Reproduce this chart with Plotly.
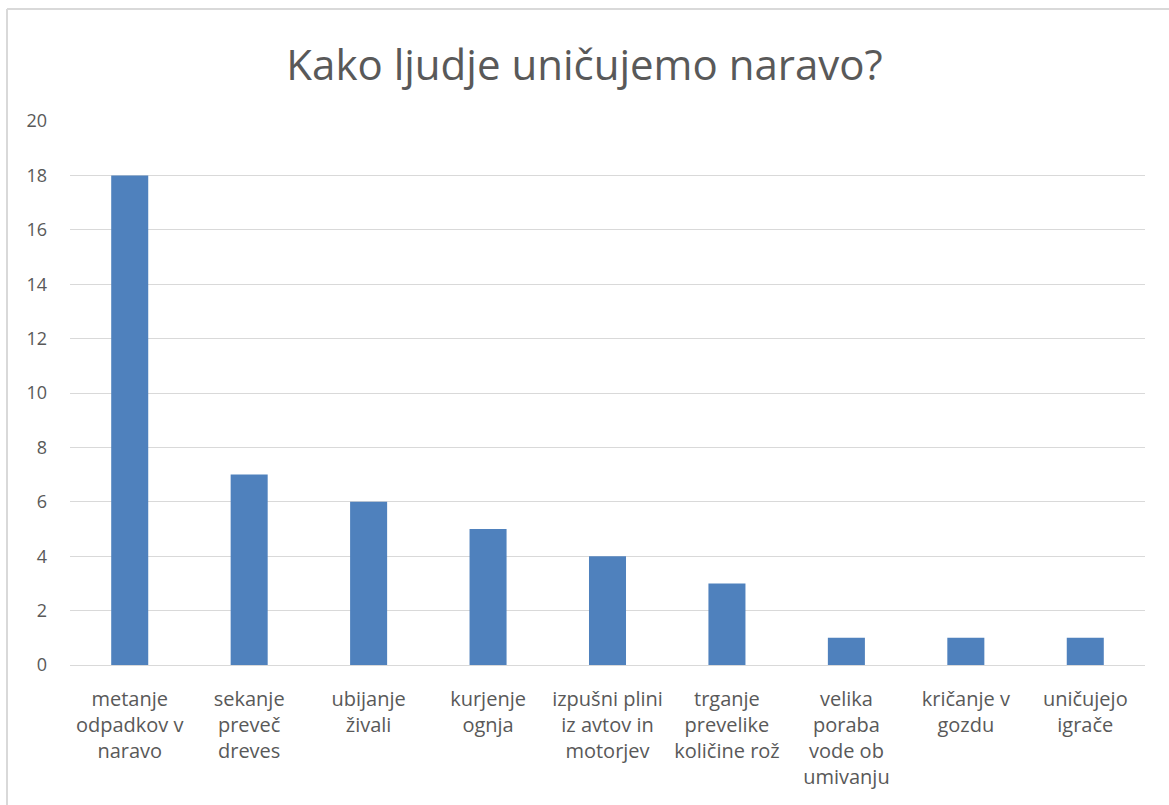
import plotly.graph_objects as go

categories = [
    "metanje<br>odpadkov v<br>naravo",
    "sekanje<br>preveč<br>dreves",
    "ubijanje<br>živali",
    "kurjenje<br>ognja",
    "izpušni plini<br>iz avtov in<br>motorjev",
    "trganje<br>prevelike<br>količine rož",
    "velika<br>poraba<br>vode ob<br>umivanju",
    "kričanje v<br>gozdu",
    "uničujejo<br>igrače",
]
values = [18, 7, 6, 5, 4, 3, 1, 1, 1]
y_ticks = [0, 2, 4, 6, 8, 10, 12, 14, 16, 18, 20]
title_text = "Kako ljudje uničujemo naravo?"

font_family = "Open Sans, Noto Sans, sans-serif"
text_color = "#595959"

fig = go.Figure(
    go.Bar(
        x=categories,
        y=values,
        marker=dict(color="#4F81BD", line=dict(width=0)),
    )
)

L, R, T, B = 70, 24, 121, 140
W, H = 1169, 805
pw = W - L - R
ph = H - T - B

fig.update_layout(
    width=W,
    height=H,
    margin=dict(l=L, r=R, t=T, b=B, pad=0),
    paper_bgcolor="white",
    plot_bgcolor="white",
    bargap=0.69,
    showlegend=False,
    title=dict(
        text=title_text,
        x=0.5,
        xanchor="center",
        y=1 - 65 / H,
        yanchor="middle",
        font=dict(family=font_family, size=42, color=text_color),
    ),
    xaxis=dict(
        showgrid=False,
        showline=True,
        linecolor="#D9D9D9",
        linewidth=1,
        ticks="",
        ticklabelstandoff=16,
        tickfont=dict(family=font_family, size=20, color=text_color),
        tickangle=0,
    ),
    yaxis=dict(
        range=[0, 20],
        tickvals=y_ticks,
        showgrid=True,
        gridcolor="#D9D9D9",
        gridwidth=1,
        zeroline=False,
        showline=False,
        ticks="",
        ticklabelstandoff=22,
        tickfont=dict(family=font_family, size=18, color=text_color),
    ),
    shapes=[
        dict(type="line", xref="paper", yref="paper",
             x0=(7 - L) / pw, x1=(W - L) / pw + 0.01,
             y0=(H - B - 9) / ph, y1=(H - B - 9) / ph,
             line=dict(color="#D9D9D9", width=2)),
        dict(type="line", xref="paper", yref="paper",
             x0=(7 - L) / pw, x1=(7 - L) / pw,
             y0=(H - B - 9) / ph, y1=-B / ph - 0.01,
             line=dict(color="#D9D9D9", width=2)),
    ],
)

fig.write_html(
    "out.html",
    config={"displayModeBar": False},
    post_script="document.body.style.margin='0';document.body.style.overflow='hidden';",
)
